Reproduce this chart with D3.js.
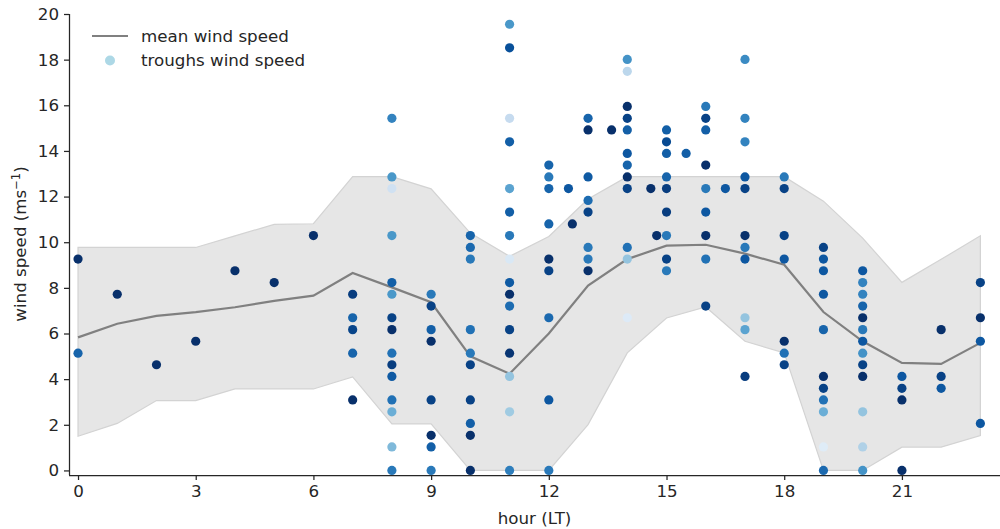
<!DOCTYPE html>
<html>
<head>
<meta charset="utf-8">
<script src="https://cdn.jsdelivr.net/npm/d3@7"></script>
<style>
  html, body { margin: 0; padding: 0; background: #ffffff; }
  svg { display: block; font-family: "DejaVu Sans", sans-serif; }
</style>
</head>
<body>
<svg id="chart" width="1000" height="529"></svg>
<script>
// Hourly mean wind speed and its envelope (m/s)
const hours = [0,1,2,3,4,5,6,7,8,9,10,11,12,13,14,15,16,17,18,19,20,21,22,23];
const meanSpeed = [5.83,6.43,6.77,6.94,7.15,7.43,7.66,8.65,8.02,7.37,5.00,4.24,6.00,8.10,9.26,9.85,9.89,9.50,9.01,6.94,5.66,4.71,4.67,5.59];
const upperSpeed = [9.77,9.77,9.77,9.77,10.28,10.78,10.81,12.87,12.87,12.34,10.40,9.38,10.25,11.89,12.87,12.87,12.87,12.87,12.87,11.80,10.18,8.24,9.25,10.28];
const lowerSpeed = [1.50,2.06,3.06,3.06,3.57,3.57,3.57,4.10,2.04,2.04,0.00,0.00,0.00,2.01,5.15,6.68,7.16,5.66,5.15,0.00,0.00,1.02,1.02,1.53];

// Wind speed observed in troughs: time (LT), speed (m/s), colour shade (0..1 of Blues)
const troughHour = [
  0,0, 1, 2, 3, 4, 5, 6,
  7,7,7,7,7,
  8,8,8,8,8,8,8,8,8,8,8,8,8,8,8,
  9,9,9,9,9,9,9,9,
  10,10,10,10,10,10,10,10,10,10,
  11,11,11,11,11,11,11,11,11,11,11,11,11,11,11,11,
  12,12,12,12,12,12,12,12,12, 12.5, 12.6,
  13,13,13,13,13,13,13,13, 13.6,
  14,14,14,14,14,14,14,14,14,14,14,14, 14.6, 14.75,
  15,15,15,15,15,15,15,15,15, 15.5,
  16,16,16,16,16,16,16,16,16, 16.5,
  17,17,17,17,17,17,17,17,17,17,17,
  18,18,18,18,18,18,18,
  19,19,19,19,19,19,19,19,19,19,19,
  20,20,20,20,20,20,20,20,20,20,20,20,20,
  21,21,21,21,
  22,22,22,
  23,23,23,23
];
const troughSpeed = [
  9.26,5.14, 7.72, 4.63, 5.66, 8.75, 8.23, 10.29,
  7.72,6.69,6.17,5.14,3.09,
  15.43,12.86,12.35,10.29,8.23,7.72,6.69,6.17,5.14,4.63,4.12,3.09,2.57,1.03,0,
  7.72,7.20,6.17,5.66,3.09,1.54,1.03,0,
  10.29,9.77,9.26,6.17,5.14,4.63,3.09,2.06,1.54,0,
  19.55,18.52,15.43,14.40,12.35,11.32,10.29,9.26,8.23,7.72,7.20,6.17,5.14,4.12,2.57,0,
  13.38,12.86,12.35,10.80,9.26,8.75,6.69,3.09,0, 12.35, 10.80,
  15.43,14.92,12.86,11.83,11.32,9.77,9.26,8.75, 14.92,
  18.01,17.49,15.95,15.43,14.92,13.89,13.38,12.86,12.35,9.77,9.26,6.69, 12.35, 10.29,
  14.92,14.40,13.89,12.86,12.35,11.32,10.29,9.26,8.75, 13.89,
  15.95,15.43,14.92,13.38,12.35,11.32,10.29,9.26,7.20, 12.35,
  18.01,15.43,14.40,12.86,12.35,10.29,9.77,9.26,6.69,6.17,4.12,
  12.86,12.35,10.29,9.26,5.66,5.14,4.63,
  9.77,9.26,8.75,7.72,6.17,4.12,3.60,3.09,2.57,1.03,0,
  8.75,8.23,7.72,7.20,6.69,6.17,5.66,5.14,4.63,4.12,2.57,1.03,0,
  4.12,3.60,3.09,0,
  6.17,4.12,3.60,
  8.23,6.69,5.66,2.06
];
const troughShade = [
  1.0,0.8, 1.0, 1.0, 1.0, 1.0, 1.0, 1.0,
  0.95,0.8,0.92,0.8,1.0,
  0.68,0.6,0.2,0.6,0.82,0.6,0.93,1.0,0.75,0.95,0.84,0.75,0.5,0.45,0.72,
  0.72,0.93,0.82,1.0,0.93,1.0,0.82,0.72,
  0.8,0.78,0.72,0.75,0.72,0.93,0.93,0.82,1.0,1.0,
  0.6,0.88,0.25,0.82,0.55,0.82,0.72,0.15,0.84,1.0,0.77,0.93,0.98,0.4,0.37,0.7,
  0.8,0.72,0.8,0.8,1.0,0.93,0.78,0.85,0.72, 0.85, 1.0,
  0.8,1.0,0.84,0.77,0.93,0.72,0.72,1.0, 1.0,
  0.62,0.28,1.0,0.93,0.82,0.85,0.8,1.0,0.93,0.75,0.4,0.13, 1.0, 1.0,
  0.82,0.9,0.82,0.8,0.95,0.95,0.72,0.93,0.72, 0.82,
  0.72,0.93,0.82,1.0,0.72,0.85,1.0,0.75,0.93, 0.85,
  0.65,0.68,0.68,0.85,0.93,1.0,0.72,0.85,0.4,0.55,0.95,
  0.72,0.93,0.93,0.85,1.0,0.75,0.93,
  0.93,0.85,0.85,0.85,0.8,1.0,0.93,0.75,0.5,0.12,0.78,
  0.85,0.68,0.68,0.8,1.0,0.72,0.85,0.62,0.93,1.0,0.4,0.32,0.62,
  0.85,0.93,1.0,1.0,
  1.0,0.93,0.85,
  0.93,1.0,0.85,0.85
];

const xTicks = [0,3,6,9,12,15,18,21];
const yTicks = [0,2,4,6,8,10,12,14,16,18,20];

const svg = d3.select("#chart");
const textColor = "#262626";
const fontSize = "16.7px";

const x = d3.scaleLinear().domain([-0.23, 23.5]).range([69, 1000]);
const y = d3.scaleLinear().domain([-0.2, 20]).range([475, 14]);

// Blues colour map, linear between the nine brewer stops
const blues = d3.scaleLinear()
  .domain(d3.range(9).map(i => i / 8))
  .range(d3.schemeBlues[9])
  .interpolate(d3.interpolateRgb);

// Envelope band
const band = d3.area()
  .x((d, i) => x(hours[i]))
  .y0((d, i) => y(lowerSpeed[i]))
  .y1((d, i) => y(upperSpeed[i]));
svg.append("path")
  .datum(hours)
  .attr("d", band)
  .attr("fill", "#e6e6e6")
  .attr("stroke", "#d3d3d3")
  .attr("stroke-width", 1.2);

// Mean line
const meanLine = d3.line()
  .x((d, i) => x(hours[i]))
  .y((d, i) => y(meanSpeed[i]));
svg.append("path")
  .datum(hours)
  .attr("d", meanLine)
  .attr("fill", "none")
  .attr("stroke", "#808080")
  .attr("stroke-width", 2.2);

// Trough points
svg.append("g")
  .selectAll("circle")
  .data(troughHour.map((h, i) => ({ h, v: troughSpeed[i], s: troughShade[i] })))
  .join("circle")
  .attr("cx", d => x(d.h))
  .attr("cy", d => y(d.v))
  .attr("r", 4.6)
  .attr("fill", d => blues(d.s));

// Axes
const xAxis = d3.axisBottom(x).tickValues(xTicks).tickSize(5).tickPadding(5).tickSizeOuter(0);
const gx = svg.append("g").attr("transform", "translate(0,475)").call(xAxis);
const yAxis = d3.axisLeft(y).tickValues(yTicks).tickSize(5).tickPadding(5).tickSizeOuter(0);
const gy = svg.append("g").attr("transform", "translate(69,0)").call(yAxis);

[gx, gy].forEach(g => {
  g.select(".domain").attr("stroke", textColor).attr("stroke-width", 1.25);
  g.selectAll(".tick line").attr("stroke", textColor).attr("stroke-width", 1.25);
  g.selectAll(".tick text").attr("fill", textColor).style("font-size", fontSize)
    .style("font-family", "DejaVu Sans, sans-serif");
});
gx.select(".domain").attr("d", "M69,0.5H1000");
gy.select(".domain").attr("d", "M0.5,14V475");

// Axis labels
svg.append("text")
  .attr("x", 534.5)
  .attr("y", 524)
  .attr("text-anchor", "middle")
  .attr("fill", textColor)
  .style("font-size", fontSize)
  .text("hour (LT)");

const yl = svg.append("text")
  .attr("transform", "translate(26,244) rotate(-90)")
  .attr("text-anchor", "middle")
  .attr("fill", textColor)
  .style("font-size", fontSize);
yl.append("tspan").text("wind speed (ms");
yl.append("tspan").attr("dy", -6).style("font-size", "11.5px").text("\u22121");
yl.append("tspan").attr("dy", 6).text(")");

// Legend
const lg = svg.append("g");
lg.append("line")
  .attr("x1", 92).attr("x2", 128).attr("y1", 36).attr("y2", 36)
  .attr("stroke", "#808080").attr("stroke-width", 2.2);
lg.append("text")
  .attr("x", 141).attr("y", 36).attr("dy", "0.35em")
  .attr("fill", textColor).style("font-size", fontSize)
  .text("mean wind speed");
lg.append("circle")
  .attr("cx", 110).attr("cy", 60.5).attr("r", 5)
  .attr("fill", "#add8e6");
lg.append("text")
  .attr("x", 141).attr("y", 60.5).attr("dy", "0.35em")
  .attr("fill", textColor).style("font-size", fontSize)
  .text("troughs wind speed");
</script>
</body>
</html>
